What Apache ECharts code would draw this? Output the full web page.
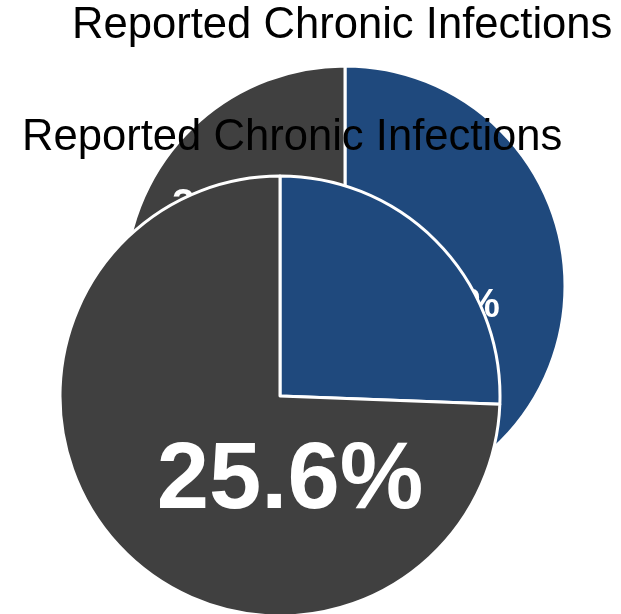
<!DOCTYPE html>
<html>
<head>
<meta charset="utf-8">
<script src="https://cdn.jsdelivr.net/npm/echarts@6/dist/echarts.min.js"></script>
<style>
  html, body { margin: 0; padding: 0; background: #fff; }
  #container { width: 621px; height: 614px; }
</style>
</head>
<body>
<div id="container"></div>
<script>
window.onload = function () {
    const dom = document.getElementById("container");
    const myChart = echarts.init(dom);

    // slice names (same for both copies of the chart)
    const categories = ['Reported', 'Not reported'];
    // back pie (upper-right copy) and front pie (lower-left copy)
    const backValues = [63.5, 36.5];
    const frontValues = [25.6, 74.4];
    const titleText = 'Reported Chronic Infections';

    const colors = ['#1F497D', '#404040'];

    function toData(values, labels) {
        return values.map(function (v, i) {
            return {
                name: categories[i],
                value: v,
                itemStyle: { color: colors[i] },
                label: labels[i]
            };
        });
    }

    const smallLabel = {
        show: true,
        position: 'center',
        color: '#fff',
        fontSize: 40,
        fontWeight: 'bold',
        fontFamily: 'Liberation Sans',
        formatter: '{c}%'
    };

    const titleStyle = { fontFamily: 'Liberation Sans', fontSize: 43.6, fontWeight: 'normal', color: '#000' };

    const option = {
        animation: false,
        backgroundColor: '#fff',
        title: [{
            text: titleText,
            left: 72,
            top: 4,
            padding: 0,
            textStyle: titleStyle
        }, {
            text: titleText,
            left: 22,
            top: 116,
            padding: 0,
            textStyle: titleStyle
        }],
        series: [{
            type: 'pie',
            z: 2,
            center: [345, 286],
            radius: 220,
            startAngle: 90,
            clockwise: true,
            silent: true,
            itemStyle: { borderColor: '#fff', borderWidth: 3 },
            labelLine: { show: false },
            data: toData(backValues, [
                Object.assign({}, smallLabel, { offset: [98, 20] }),
                Object.assign({}, smallLabel, { offset: [-116, -80] })
            ])
        }, {
            type: 'pie',
            z: 3,
            center: [280, 396],
            radius: 220,
            startAngle: 90,
            clockwise: true,
            silent: true,
            itemStyle: { borderColor: '#fff', borderWidth: 3 },
            labelLine: { show: false },
            data: toData(frontValues, [
                Object.assign({}, smallLabel, { fontSize: 94, offset: [10, 86] }),
                { show: false }
            ])
        }]
    };

    myChart.setOption(option);
};
</script>
</body>
</html>
